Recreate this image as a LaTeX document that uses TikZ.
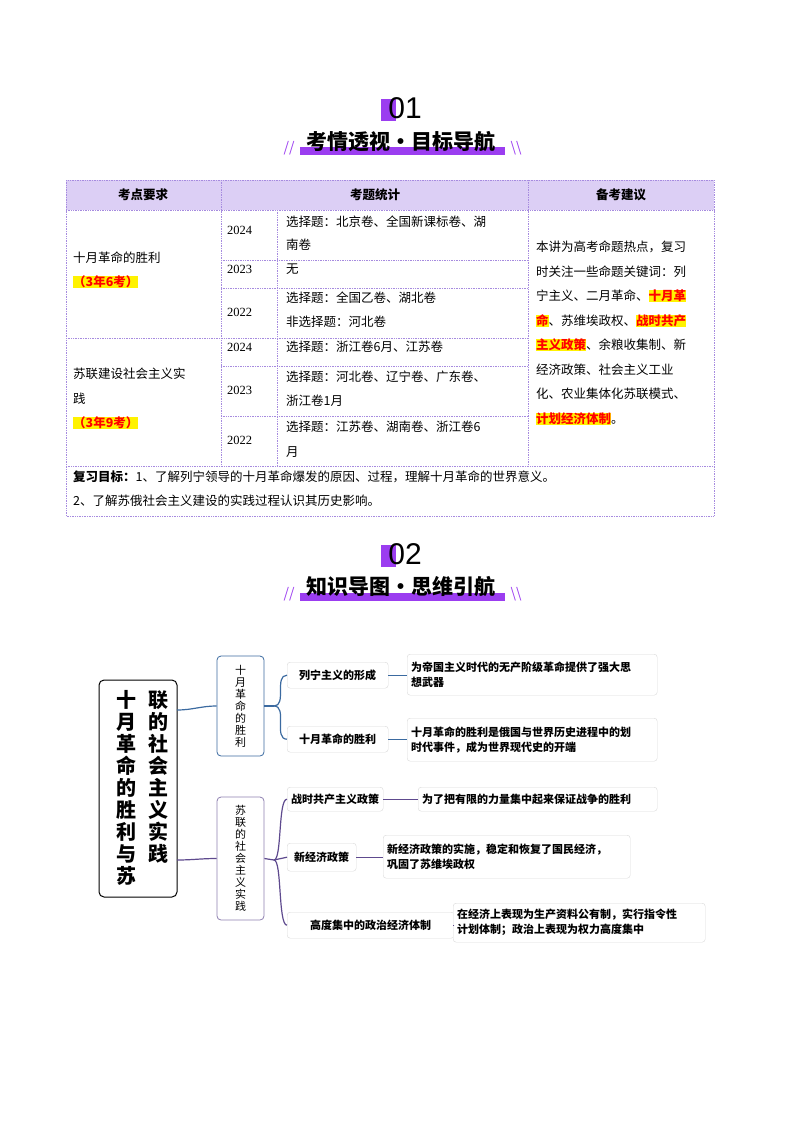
\documentclass[tikz,border=0pt]{standalone}
\usepackage{fontspec}
\setmainfont{Noto Sans CJK SC}
\newfontfamily\numf{Liberation Sans}
\XeTeXlinebreaklocale "zh"
\XeTeXlinebreakskip=0pt plus 1pt
\usetikzlibrary{positioning}
\definecolor{pbar}{HTML}{9B3DF0}
\definecolor{hfill}{HTML}{DCCFF5}
\definecolor{tline}{HTML}{A68BDF}
\definecolor{bl}{HTML}{3B6AA0}
\definecolor{pu}{HTML}{5E4A8E}
\newcommand\hlt[1]{{\setlength{\fboxsep}{0pt}\colorbox{yellow}{\textcolor{red}{\bfseries #1}}}}
\tikzset{
 cell/.style={anchor=west,font=\fontsize{12.5}{24.5}\selectfont,align=left,inner sep=0pt},
 hd/.style={font=\bfseries\fontsize{12.5}{14}\selectfont},
 mbox/.style={draw=black!15,rounded corners=3pt,fill=white,font=\bfseries\fontsize{11}{15}\selectfont,align=left,inner sep=4pt,anchor=north west},
 vbox/.style={rounded corners=4pt,draw=bl,line width=0.8pt},
 ln/.style={line width=1.2pt}
}
\begin{document}
\begin{tikzpicture}[x=1pt,y=-1pt]
\useasboundingbox (0,0) rectangle (800,1132);
% section 01 heading
\fill[pbar] (381,99) rectangle (396,121);
\node[font=\numf\fontsize{30}{30}\selectfont] (n1) at (405,108) {01};
\fill[pbar] (300,147) rectangle (505,155);
\node[font=\bfseries\fontsize{21}{21}\selectfont] (t1) at (401,142) {考情透视·目标导航};
\node[text=pbar,font=\itshape\fontsize{14}{14}\selectfont] (s1) at (289,148) {//};
\node[text=pbar,font=\fontsize{14}{14}\selectfont] (s2) at (516,148) {\textbackslash\textbackslash};
% table
\fill[hfill] (66,180) rectangle (714,210);
\begin{scope}[draw=tline,densely dotted,line width=0.7pt]
\draw (66,180) rectangle (714,516);
\draw (66,210) -- (714,210);
\draw (66,338) -- (528,338);
\draw (66,466) -- (714,466);
\draw (221,180) -- (221,466);
\draw (528,180) -- (528,466);
\draw (277,210) -- (277,466);
\foreach \y in {260,288,366,416} \draw (221,\y) -- (528,\y);
\end{scope}
\node[hd] (h1) at (143,195) {考点要求};
\node[hd] (h2) at (375,195) {考题统计};
\node[hd] (h3) at (621,195) {备考建议};
\node[cell] (a1) at (73,258) {十月革命的胜利};
\node[cell] (a2) at (73,282) {\hlt{（3年6考）}};
\node[cell] (b1) at (73,374) {苏联建设社会主义实};
\node[cell] (b2) at (73,399) {践};
\node[cell] (b3) at (73,423) {\hlt{（3年9考）}};
\foreach \y/\t in {230/2024,269/2023,312/2022,347/2024,390/2023,440/2022}
  \node[cell] at (227,\y) {\fontspec{Liberation Serif}\t};
\node[cell] (c1) at (286,222) {选择题：北京卷、全国新课标卷、湖};
\node[cell] (c1b) at (286,245) {南卷};
\node[cell] (c2) at (286,269) {无};
\node[cell] (c3) at (286,298) {选择题：全国乙卷、湖北卷};
\node[cell] (c3b) at (286,322) {非选择题：河北卷};
\node[cell] (c4) at (286,347) {选择题：浙江卷6月、江苏卷};
\node[cell] (c5) at (286,377) {选择题：河北卷、辽宁卷、广东卷、};
\node[cell] (c5b) at (286,401) {浙江卷1月};
\node[cell] (c6) at (286,427) {选择题：江苏卷、湖南卷、浙江卷6};
\node[cell] (c6b) at (286,452) {月};
\node[cell,text width=178pt] (adv) at (536,333) {本讲为高考命题热点，复习\\时关注一些命题关键词：列\\宁主义、二月革命、\hlt{十月革}\\\hlt{命}、苏维埃政权、\hlt{战时共产}\\\hlt{主义政策}、余粮收集制、新\\经济政策、社会主义工业\\化、农业集体化苏联模式、\\\hlt{计划经济体制}。};
\node[cell] (r1) at (73,477) {\textbf{复习目标：}1、了解列宁领导的十月革命爆发的原因、过程，理解十月革命的世界意义。};
\node[cell] (r2) at (73,501) {2、了解苏俄社会主义建设的实践过程认识其历史影响。};
% section 02 heading
\fill[pbar] (381,545) rectangle (396,567);
\node[font=\numf\fontsize{30}{30}\selectfont] (n2) at (405,554) {02};
\fill[pbar] (300,593) rectangle (505,601);
\node[font=\bfseries\fontsize{21}{21}\selectfont] (t2) at (401,587) {知识导图·思维引航};
\node[text=pbar,font=\itshape\fontsize{14}{14}\selectfont] (s3) at (289,594) {//};
\node[text=pbar,font=\fontsize{14}{14}\selectfont] (s4) at (516,594) {\textbackslash\textbackslash};
% mind map
\draw[rounded corners=5pt,line width=1pt] (99,680) rectangle (177,897);
\node[font=\bfseries\fontsize{20}{22}\selectfont,align=center,inner sep=0pt] (rc1) at (126,788) {十\\月\\革\\命\\的\\胜\\利\\与\\苏};
\node[font=\bfseries\fontsize{20}{22}\selectfont,align=center,inner sep=0pt] (rc2) at (158,777) {联\\的\\社\\会\\主\\义\\实\\践};
\coordinate (rootR1) at (177,710);
\coordinate (rootR2) at (177,860);
\node[vbox,minimum width=47pt,minimum height=100pt] (L1) at (240.5,706) {};
\node[font=\fontsize{11}{12}\selectfont,align=center] at (240.5,706) {十\\月\\革\\命\\的\\胜\\利};
\node[vbox,draw=pu!70,minimum width=47pt,minimum height=123pt] (L2) at (240.5,858.5) {};
\node[font=\fontsize{11}{12}\selectfont,align=center] at (240.5,858.5) {苏\\联\\的\\社\\会\\主\\义\\实\\践};
\draw[ln,bl] (rootR1) to[out=0,in=180] (L1.west);
\draw[ln,pu] (rootR2) to[out=0,in=180] (L2.west);
% level 2
\node[mbox,minimum width=101pt,minimum height=26pt] (m1) at (287,662) {列宁主义的形成};
\node[mbox,minimum width=101pt,minimum height=26pt] (m2) at (287,726) {十月革命的胜利};
\node[mbox,minimum width=80pt,minimum height=24pt] (m3) at (287,787) {战时共产主义政策};
\node[mbox,minimum width=69pt,minimum height=28pt] (m4) at (287,843) {新经济政策};
\node[mbox,minimum width=167pt,minimum height=26pt] (m5) at (287,912) {高度集中的政治经济体制};
\node[mbox,text width=242pt,minimum height=41pt] (d1) at (407,654) {为帝国主义时代的无产阶级革命提供了强大思\\想武器};
\node[mbox,text width=242pt,minimum height=43pt] (d2) at (407,718) {十月革命的胜利是俄国与世界历史进程中的划\\时代事件，成为世界现代史的开端};
\node[mbox,text width=231pt,minimum height=24pt] (d3) at (418,787) {为了把有限的力量集中起来保证战争的胜利};
\node[mbox,text width=239pt,minimum height=43pt] (d4) at (383,835) {新经济政策的实施，稳定和恢复了国民经济，\\巩固了苏维埃政权};
\node[mbox,text width=244pt,minimum height=39pt] (d5) at (453,903) {在经济上表现为生产资料公有制，实行指令性\\计划体制；政治上表现为权力高度集中};
\coordinate (j1) at (274,706);
\coordinate (j2) at (274,860);
\draw[ln,bl] (L1.east) -- (j1);
\draw[ln,bl] (j1) to[out=0,in=180] (m1.west);
\draw[ln,bl] (j1) to[out=0,in=180] (m2.west);
\draw[ln,pu] (L2.east) -- (j2);
\draw[ln,pu] (j2) .. controls (282,860) and (278,799) .. (m3.west);
\draw[ln,pu] (j2) -- (m4.west);
\draw[ln,pu] (j2) .. controls (282,860) and (278,925) .. (m5.west);
\draw[ln,bl] (m1.east) -- (d1.west|-m1.east);
\draw[ln,bl] (m2.east) -- (d2.west|-m2.east);
\draw[ln,pu] (m3.east) -- (d3.west);
\draw[ln,pu] (m4.east) -- (d4.west|-m4.east);
\draw[ln,pu] (m5.east) -- (d5.west|-m5.east);
\end{tikzpicture}
\end{document}
